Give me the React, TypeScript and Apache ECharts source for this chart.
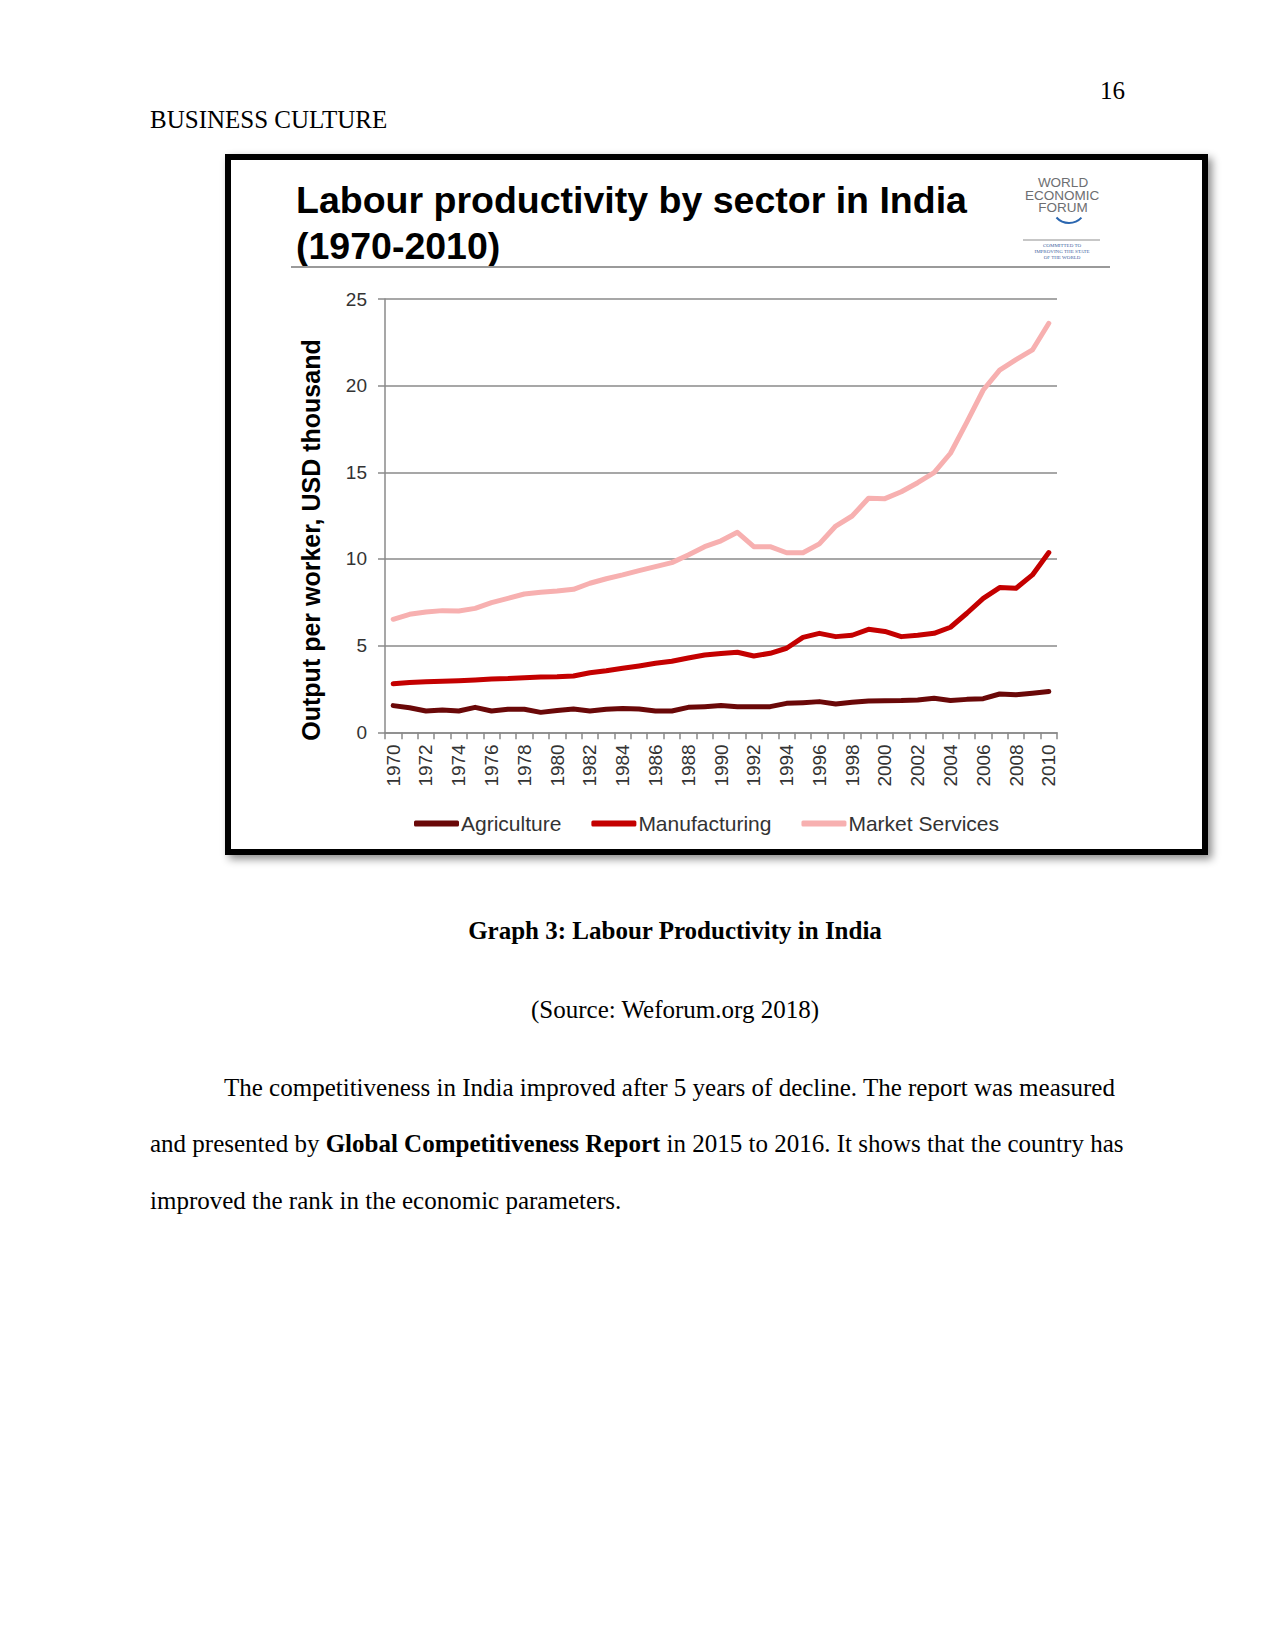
import React, { useEffect, useRef } from "react";
import * as echarts from "echarts";

const years = [
  "1970", "1971", "1972", "1973", "1974", "1975", "1976", "1977", "1978", "1979",
  "1980", "1981", "1982", "1983", "1984", "1985", "1986", "1987", "1988", "1989",
  "1990", "1991", "1992", "1993", "1994", "1995", "1996", "1997", "1998", "1999",
  "2000", "2001", "2002", "2003", "2004", "2005", "2006", "2007", "2008", "2009",
  "2010",
];

const agriculture = [
  1.54, 1.42, 1.23, 1.29, 1.23, 1.44, 1.23, 1.33, 1.33, 1.15,
  1.26, 1.34, 1.23, 1.33, 1.38, 1.34, 1.23, 1.23, 1.44, 1.48,
  1.54, 1.48, 1.48, 1.48, 1.67, 1.71, 1.77, 1.63, 1.73, 1.81,
  1.82, 1.83, 1.87, 1.96, 1.83, 1.9, 1.94, 2.21, 2.17, 2.25,
  2.35,
];

const manufacturing = [
  2.8, 2.88, 2.92, 2.94, 2.98, 3.02, 3.08, 3.1, 3.15, 3.19,
  3.2, 3.25, 3.44, 3.55, 3.69, 3.83, 3.98, 4.1, 4.29, 4.46,
  4.55, 4.62, 4.4, 4.56, 4.85, 5.48, 5.71, 5.52, 5.6, 5.94,
  5.82, 5.52, 5.6, 5.71, 6.06, 6.87, 7.73, 8.35, 8.31, 9.08,
  10.37,
];

const marketServices = [
  6.52, 6.81, 6.94, 7.02, 7.0, 7.15, 7.48, 7.73, 7.98, 8.08,
  8.15, 8.25, 8.6, 8.86, 9.08, 9.33, 9.56, 9.79, 10.23, 10.71,
  11.05, 11.54, 10.71, 10.71, 10.36, 10.36, 10.87, 11.9, 12.48, 13.5,
  13.48, 13.88, 14.4, 14.98, 16.1, 17.9, 19.75, 20.9, 21.5, 22.06,
  23.6,
];

const seriesNames = ["Agriculture", "Manufacturing", "Market Services"];
const seriesColors = ["#6a0808", "#c40000", "#f7b0b0"];

const chartTitle1 = "Labour productivity by sector in India";
const chartTitle2 = "(1970-2010)";
const yAxisTitle = "Output per worker, USD thousand";

const SERIF = "'Liberation Serif', 'Times New Roman', serif";
const SANS = "'Liberation Sans', Arial, sans-serif";

export default function App() {
  const ref = useRef<HTMLDivElement>(null);

  useEffect(() => {
    if (!ref.current) return;
    const chart = echarts.init(ref.current, undefined, { renderer: "svg" });

    const txt = (
      x: number,
      y: number,
      text: string,
      opts: any = {}
    ) => ({
      type: "text",
      x,
      y,
      z: 10,
      rotation: opts.rotation || 0,
      style: {
        text,
        fontSize: opts.fontSize || 25,
        fontFamily: opts.fontFamily || SERIF,
        fontWeight: opts.fontWeight || "normal",
        fill: opts.fill || "#000",
        align: opts.align || "left",
        verticalAlign: "middle",
        rich: opts.rich,
      },
    });

    const graphics: any[] = [
      // chart frame with shadow
      {
        type: "rect",
        z: -5,
        shape: { x: 228, y: 157, width: 977, height: 695 },
        style: {
          fill: "#fff",
          stroke: "#000",
          lineWidth: 6,
          shadowBlur: 8,
          shadowOffsetX: 4,
          shadowOffsetY: 4,
          shadowColor: "rgba(0,0,0,0.45)",
        },
      },
      // page header
      txt(150, 119, "BUSINESS CULTURE"),
      txt(1125, 90, "16", { align: "right" }),
      // chart title
      txt(296, 200, chartTitle1, { fontFamily: SANS, fontWeight: "bold", fontSize: 37.5 }),
      txt(296, 246, chartTitle2, { fontFamily: SANS, fontWeight: "bold", fontSize: 37.5 }),
      {
        type: "line",
        z: 10,
        shape: { x1: 291, y1: 267, x2: 1110, y2: 267 },
        style: { stroke: "#9a9a9a", lineWidth: 2 },
      },
      // WEF logo
      txt(1063, 182, "WORLD", { fontFamily: SANS, fontSize: 13.5, fill: "#6d6e71", align: "center" }),
      txt(1062, 195, "ECONOMIC", { fontFamily: SANS, fontSize: 13.5, fill: "#6d6e71", align: "center" }),
      txt(1063, 207, "FORUM", { fontFamily: SANS, fontSize: 13.5, fill: "#6d6e71", align: "center" }),
      {
        type: "arc",
        z: 10,
        shape: { cx: 1069, cy: 206, r: 17, startAngle: 0.75, endAngle: 2.4, clockwise: true },
        style: { stroke: "#2a66b0", lineWidth: 2, fill: "none" },
      },
      {
        type: "line",
        z: 10,
        shape: { x1: 1023, y1: 240, x2: 1100, y2: 240 },
        style: { stroke: "#b5b5b5", lineWidth: 1.5 },
      },
      txt(1062, 245, "COMMITTED TO", { fontSize: 5, fill: "#3e62a0", align: "center" }),
      txt(1062, 251, "IMPROVING THE STATE", { fontSize: 5, fill: "#3e62a0", align: "center" }),
      txt(1062, 257, "OF THE WORLD", { fontSize: 5, fill: "#3e62a0", align: "center" }),
      // y axis title
      txt(311, 540, yAxisTitle, {
        fontFamily: SANS,
        fontWeight: "bold",
        fontSize: 25,
        align: "center",
        rotation: Math.PI / 2,
      }),
      // caption
      txt(675, 930, "Graph 3: Labour Productivity in India", { fontWeight: "bold", align: "center" }),
      txt(675, 1009, "(Source: Weforum.org 2018)", { align: "center" }),
      // body
      txt(
        224,
        1087,
        "The competitiveness in India improved after 5 years of decline. The report was measured"
      ),
      txt(
        150,
        1143,
        "and presented by {b|Global Competitiveness Report} in 2015 to 2016. It shows that the country has",
        {
          rich: {
            b: { fontWeight: "bold", fontFamily: SERIF, fontSize: 25, fill: "#000" },
          },
        }
      ),
      txt(150, 1200, "improved the rank in the economic parameters."),
    ];

    const values = [agriculture, manufacturing, marketServices];

    chart.setOption({
      animation: false,
      backgroundColor: "#ffffff",
      grid: { left: 385, right: 218, top: 299, bottom: 917.7, containLabel: false },
      legend: {
        left: 409,
        top: 808,
        itemWidth: 45,
        itemHeight: 6,
        itemGap: 30,
        icon: "roundRect",
        textStyle: { fontFamily: SANS, fontSize: 21, color: "#333", padding: [0, 0, 0, -3] },
        data: seriesNames,
      },
      xAxis: {
        type: "category",
        data: years,
        boundaryGap: true,
        axisLine: { show: true, lineStyle: { color: "#8a8a8a", width: 1.5 } },
        axisTick: { show: true, interval: 0, length: 7, lineStyle: { color: "#8a8a8a", width: 1.5 } },
        axisLabel: {
          interval: 1,
          rotate: 90,
          margin: 12,
          fontFamily: SANS,
          fontSize: 19,
          color: "#333",
        },
        splitLine: { show: false },
      },
      yAxis: {
        type: "value",
        min: 0,
        max: 25,
        interval: 5,
        axisLine: { show: true, lineStyle: { color: "#8a8a8a", width: 1.5 } },
        axisTick: { show: true, length: 7, lineStyle: { color: "#8a8a8a", width: 1.5 } },
        axisLabel: { margin: 18, fontFamily: SANS, fontSize: 19, color: "#333" },
        splitLine: { show: true, lineStyle: { color: "#8a8a8a", width: 1.5 } },
      },
      series: seriesNames.map((name, i) => ({
        name,
        type: "line",
        data: values[i],
        showSymbol: false,
        symbol: "none",
        smooth: false,
        z: 5,
        color: seriesColors[i],
        lineStyle: { color: seriesColors[i], width: 5, join: "round", cap: "round" },
        itemStyle: { color: seriesColors[i] },
      })),
      graphic: { elements: graphics },
    });

    return () => chart.dispose();
  }, []);

  return (
    <div
      ref={ref}
      style={{ position: "absolute", left: 0, top: 0, width: 1275, height: 1650, background: "#fff" }}
    />
  );
}
